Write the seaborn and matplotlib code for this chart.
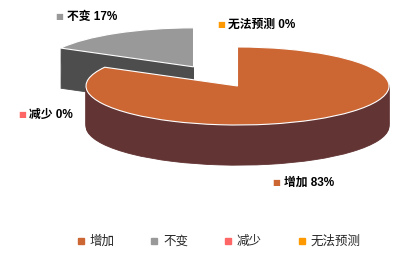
import matplotlib
matplotlib.use("Agg")
import matplotlib.pyplot as plt
import seaborn as sns
from matplotlib.lines import Line2D

# ---- data ----
categories = ["增加", "不变", "减少", "无法预测"]
shares = [83, 17, 0, 0]
top_colors = ["#CC6633", "#999999", "#FF6666", "#FF9900"]
side_colors = ["#633434", "#4D4D4D", "#993D3D", "#995C00"]
explode_amount = [0.0, 0.57, 0.0, 0.0]

sns.set_theme(style="white")
plt.rcParams['font.family'] = ['Liberation Sans', 'Noto Sans CJK SC', 'DejaVu Sans']

W, H = 407, 262
fig = plt.figure(figsize=(W / 100, H / 100), dpi=100)
ax = fig.add_axes([0, 0, 1, 1])

idx = [i for i, v in enumerate(shares) if v > 0]
vals = [shares[i] for i in idx]
expl = [explode_amount[i] for i in idx]

# side (depth) layers
depth = 1.03
n_layers = 42
for k in range(n_layers, 0, -1):
    d = depth * k / n_layers
    wedges, _ = ax.pie(vals, colors=[side_colors[i] for i in idx], explode=expl,
                       startangle=90, counterclock=False, center=(0, -d),
                       wedgeprops=dict(linewidth=0.6))
    for w in wedges:
        w.set_edgecolor(w.get_facecolor())

# top faces
ax.pie(vals, colors=[top_colors[i] for i in idx], explode=expl,
       startangle=90, counterclock=False, center=(0, 0),
       wedgeprops=dict(linewidth=0.8, edgecolor="white"))

ax.set_aspect('auto')
ax.set_xlim(-237.5 / 151.5, (W - 237.5) / 151.5)
ax.set_ylim((86 - H) / 39, 86 / 39)
ax.axis('off')

# data labels (square key + text), pixel positions from the layout
label_pos = {  # category -> (square x, y, text x)
    "增加": (276, 183, 284),
    "不变": (59, 17, 67),
    "减少": (22, 115, 29),
    "无法预测": (221, 25, 228),
}
for cat, val, col in zip(categories, shares, top_colors):
    sx, sy, tx = label_pos[cat]
    fig.text(sx / W, 1 - sy / H, "■", color=col, fontsize=6, ha='center', va='center',
             family=['DejaVu Sans'])
    fig.text(tx / W, 1 - sy / H, f"{cat} {val}%", color="black", fontsize=8.5,
             fontweight='bold', ha='left', va='center')

# legend
handles = [Line2D([0], [0], marker='s', linestyle='none', markersize=5,
                  markerfacecolor=c, markeredgecolor=c) for c in top_colors]
fig.legend(handles, categories, loc='center', bbox_to_anchor=(218 / W, 1 - 242 / H),
           ncol=4, frameon=False, fontsize=9, handlelength=0.8, handletextpad=0.3,
           columnspacing=2.8, borderpad=0)

fig.savefig("out.png", dpi=100)
